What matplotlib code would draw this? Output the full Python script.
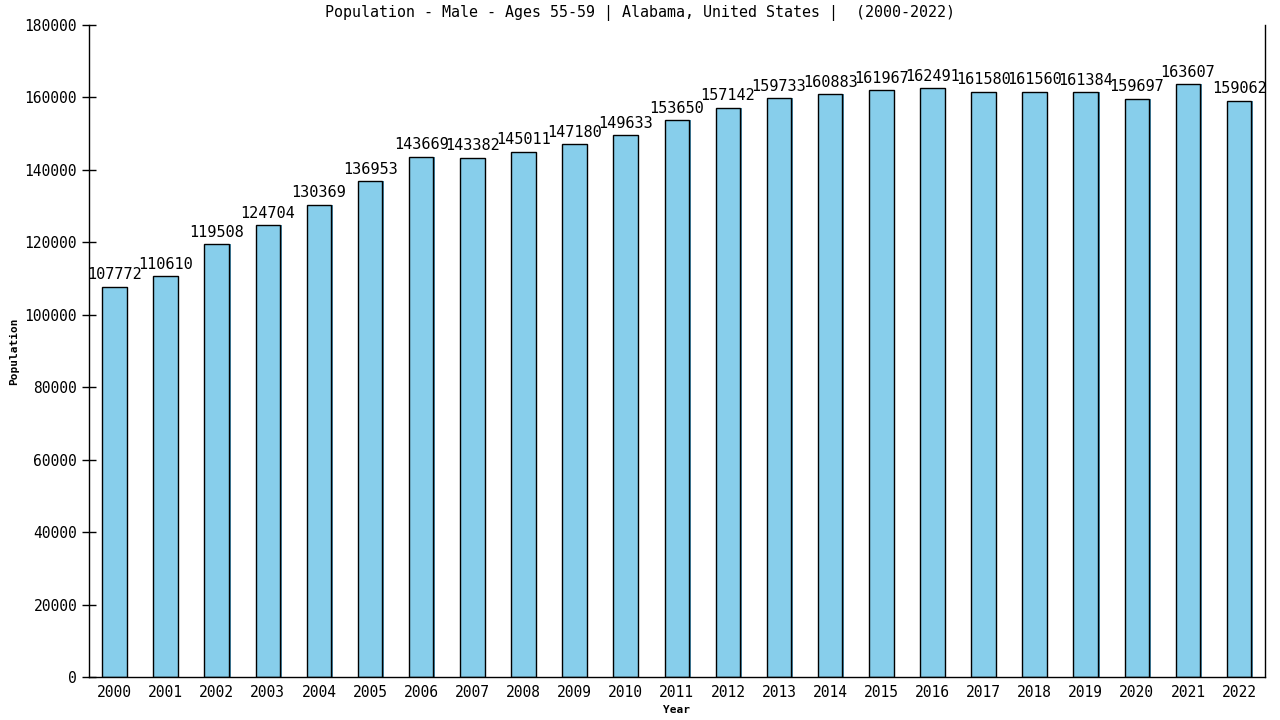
import matplotlib
matplotlib.use('Agg')
import matplotlib.pyplot as plt

# Data
years = list(range(2000, 2023))
population = [107772, 110610, 119508, 124704, 130369, 136953, 143669, 143382,
              145011, 147180, 149633, 153650, 157142, 159733, 160883, 161967,
              162491, 161580, 161560, 161384, 159697, 163607, 159062]

plt.rcParams['font.family'] = 'DejaVu Sans Mono'

fig = plt.figure(figsize=(12.8, 7.2), dpi=100)
ax = fig.add_axes([0.0695, 0.0597, 0.9185, 0.9056])

x = list(range(len(years)))
# slight shadow on the right edge of each bar
ax.bar([i + 0.03 for i in x], population, width=0.48, color='#4a8fb0', zorder=1)
ax.bar(x, population, width=0.48, color='#87CEEB', edgecolor='black', linewidth=1, zorder=2)

for i, v in zip(x, population):
    ax.text(i, v + 1200, str(v), ha='center', va='bottom', fontsize=11)

ax.set_xlim(-0.5, len(years) - 0.5)
ax.set_ylim(0, 180000)
ax.set_xticks(x)
ax.set_xticklabels([str(y) for y in years], fontsize=10.5)
ax.set_yticks(range(0, 180001, 20000))
ax.set_yticklabels([str(t) for t in range(0, 180001, 20000)], fontsize=10.5)
ax.tick_params(axis='y', direction='inout', length=10, width=1)
ax.tick_params(axis='x', length=0, pad=6)

ax.spines['top'].set_visible(False)
for s in ['left', 'right', 'bottom']:
    ax.spines[s].set_linewidth(1)

# title is centred on the whole figure, not on the axes
fig.text(0.5, 0.982, 'Population - Male - Ages 55-59 | Alabama, United States |  (2000-2022)',
         ha='center', va='center', fontsize=10.8)
ax.set_xlabel('Year', fontsize=8, fontweight='bold', labelpad=3)
ax.set_ylabel('Population', fontsize=8, fontweight='bold', labelpad=4)

fig.savefig('out.png', dpi=100)
